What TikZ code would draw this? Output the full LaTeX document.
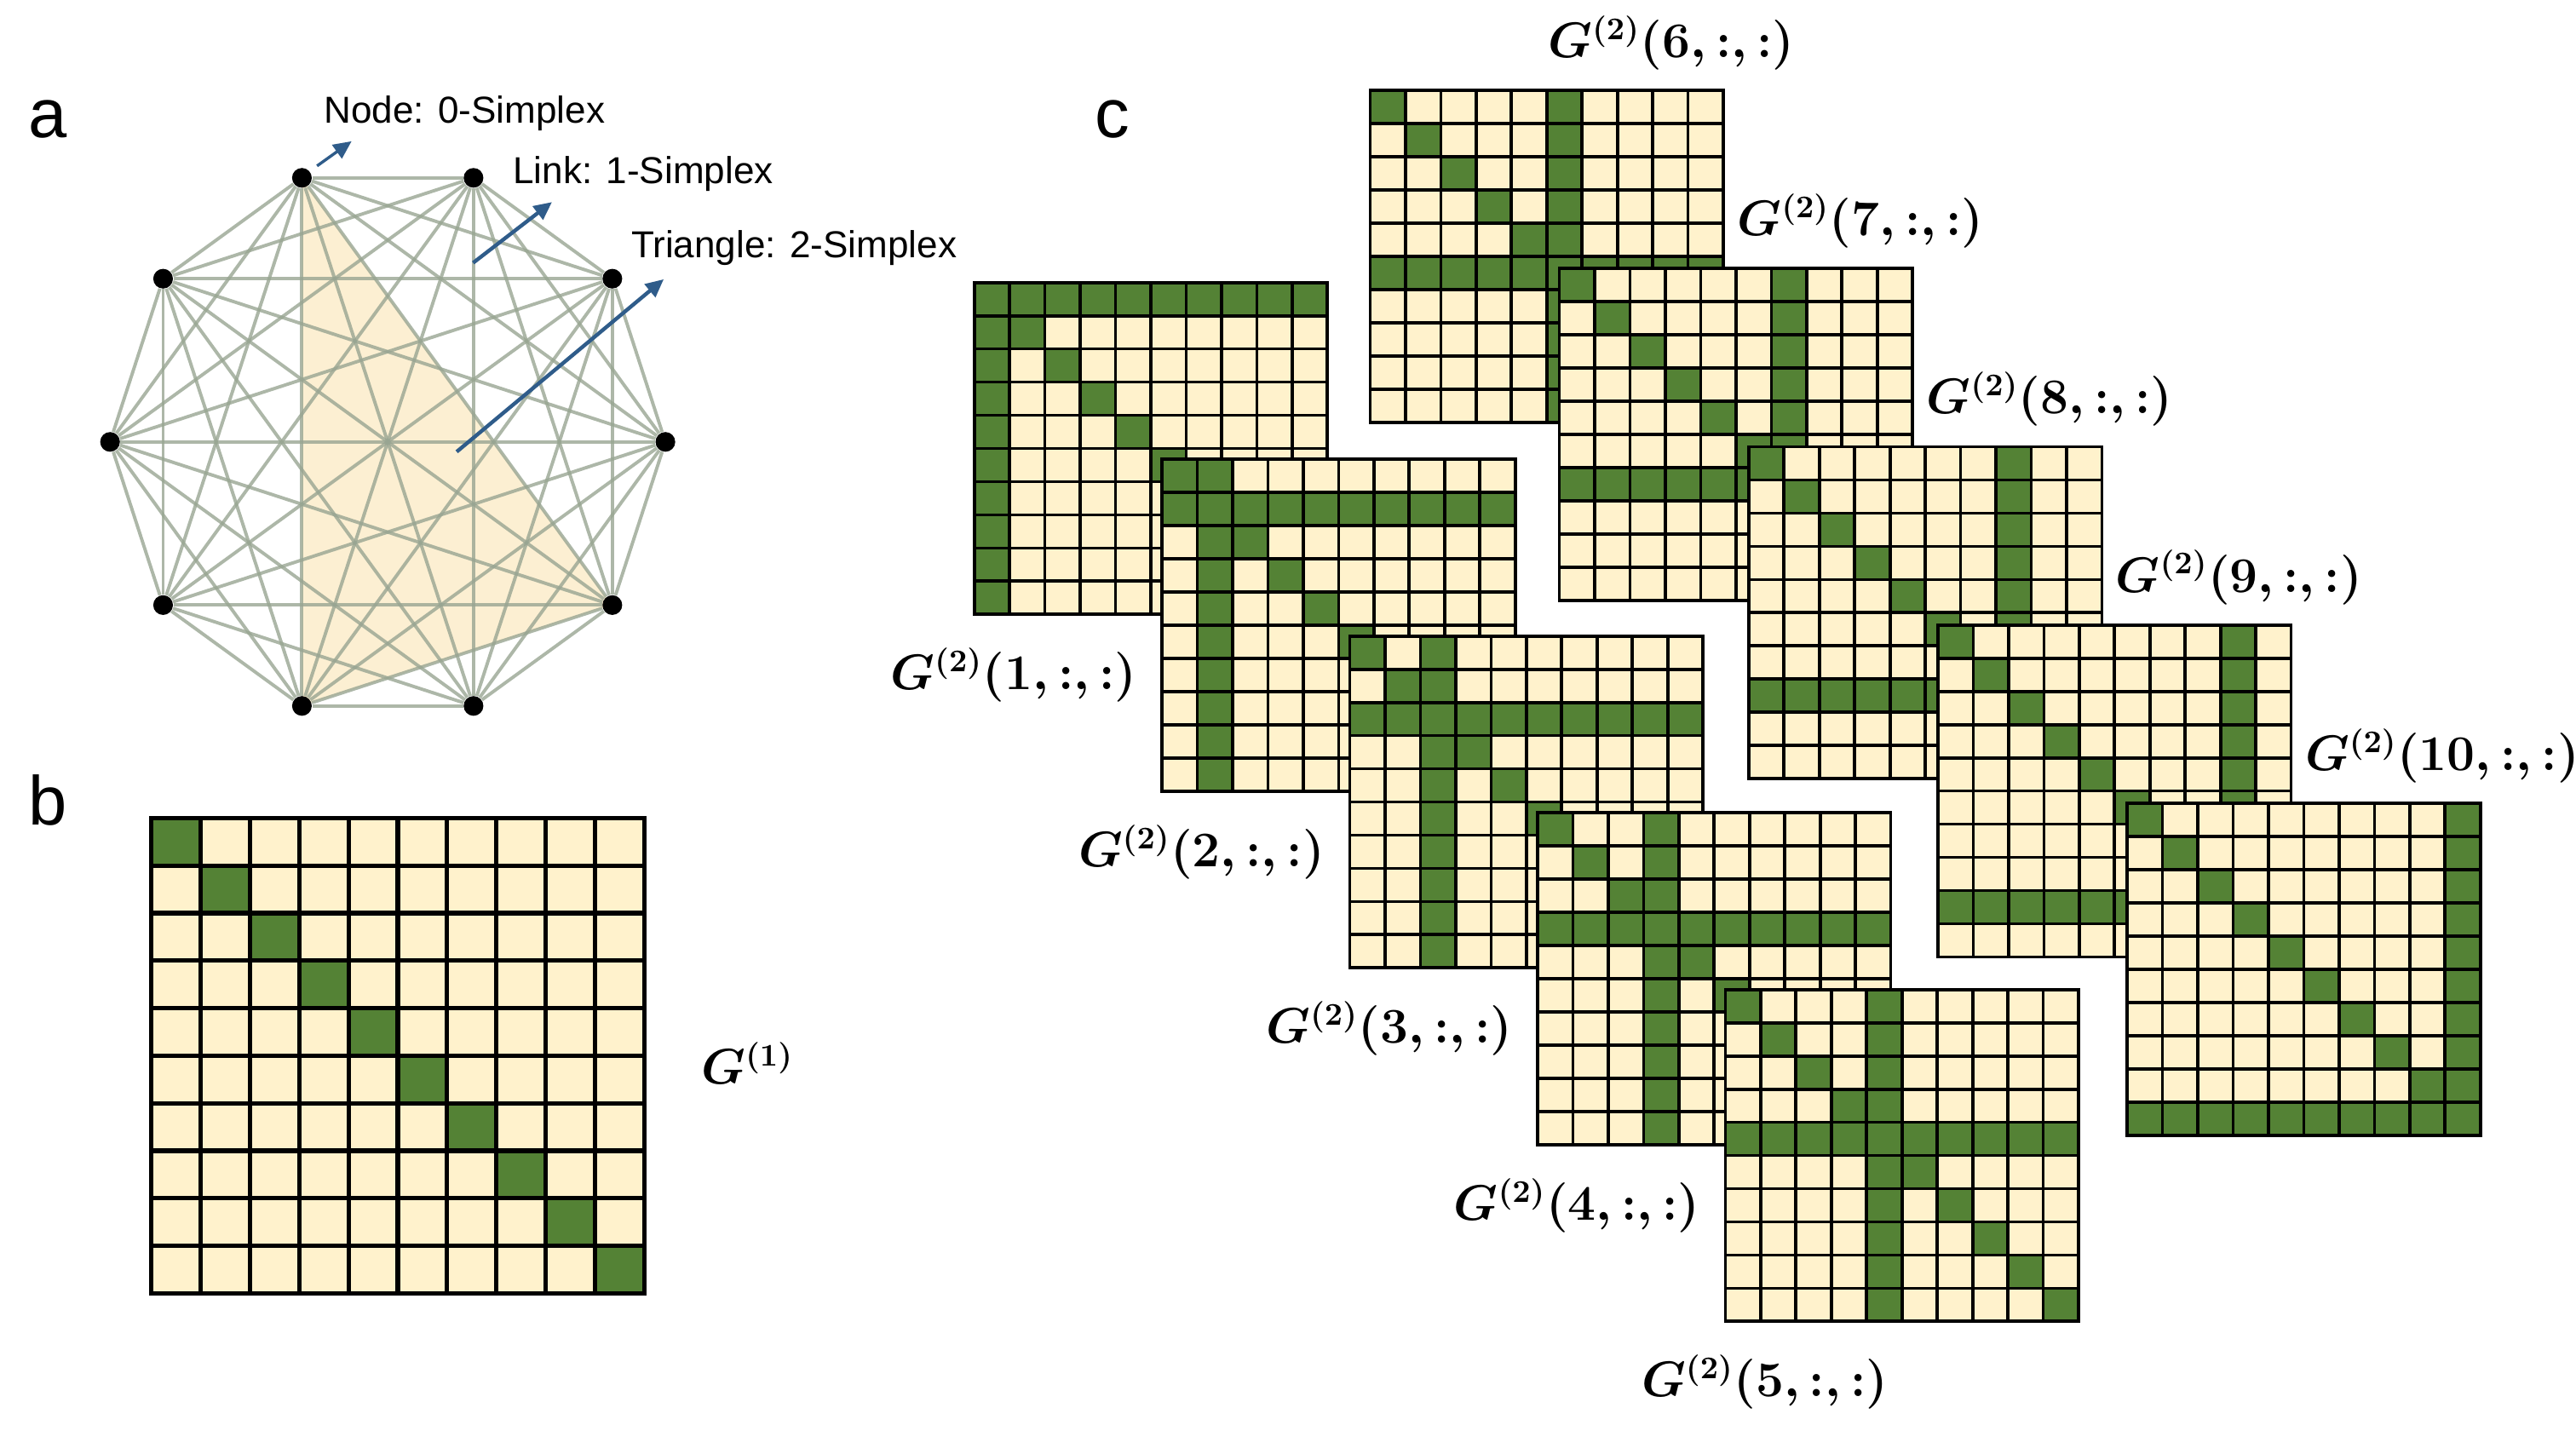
\documentclass[tikz,border=0pt]{standalone}
\usepackage{fontspec}
\setsansfont{Liberation Sans}
\usetikzlibrary{arrows.meta}
\definecolor{cream}{HTML}{FFF2CC}
\definecolor{leaf}{HTML}{548235}
\definecolor{edgegray}{HTML}{98A592}
\definecolor{trifill}{HTML}{FCEFD2}
\definecolor{pointerblue}{HTML}{2F5C8A}

% one 10x10 slice: name, x, y, highlighted index (0 = diagonal only), cell width, cell height
\newcommand{\gslice}[6]{%
  \begin{scope}[shift={({#2},{#3})}]
    \coordinate (#1-nw) at (0,0);
    \coordinate (#1-sw) at (0,{10*#6});
    \coordinate (#1-se) at ({10*#5},{10*#6});
    \fill[cream] (#1-nw) rectangle (#1-se);
    \ifnum#4>0
      \fill[leaf] (0,{(#4-1)*#6}) rectangle ++({10*#5},{#6});
      \fill[leaf] ({(#4-1)*#5},0) rectangle ++({#5},{10*#6});
    \fi
    \foreach \i in {0,...,9}
      \fill[leaf] ({\i*#5},{\i*#6}) rectangle ++({#5},{#6});
    \foreach \i in {0,...,10} {
      \draw[cell] ({\i*#5},0) -- ++(0,{10*#6});
      \draw[cell] (0,{\i*#6}) -- ++({10*#5},0);
    }
  \end{scope}}

\begin{document}
\begin{tikzpicture}[
  x=0.02cm, y=-0.02cm,
  panel/.style={font=\sffamily\fontsize{24}{28}\selectfont,anchor=base west,inner sep=0pt},
  note/.style={font=\sffamily\fontsize{13}{15}\selectfont,anchor=west,inner sep=0pt},
  glabel/.style={font=\fontsize{16.2}{19}\selectfont\boldmath,inner sep=0pt},
  vertex/.style={circle,fill=black,inner sep=0pt,minimum size=0.24cm},
  link/.style={edgegray,opacity=0.8,line width=1.15pt},
  pointer/.style={-{Triangle[length=0.22cm,width=0.2cm]},pointerblue,line width=1.3pt},
  cell/.style={black,line width=1.1pt,line cap=rect}]

  \useasboundingbox (0,0) rectangle (1568,871);

  % Panel letters
  \node[panel] (pa) at (17,84) {a};
  \node[panel] (pb) at (17,502) {b};
  \node[panel] (pc) at (666,84) {c};

  % Complete graph on ten vertices, with one filled triangle
  \foreach \i in {0,...,9}
    \coordinate (p\i) at ({236+169*cos(36*\i)},{269-169*sin(36*\i)});
  \fill[trifill] (p3) -- (p7) -- (p9) -- cycle;
  \foreach \i in {0,...,9}
    \node[vertex] (v\i) at (p\i) {};
  \foreach \i in {0,...,8} {
    \pgfmathtruncatemacro{\nxt}{\i+1}
    \foreach \j in {\nxt,...,9}
      \draw[link] (v\i) -- (v\j);
  }

  % Simplex annotations
  \node[note] (nodetxt) at (197,69) {Node: 0-Simplex};
  \node[note] (linktxt) at (312,106) {Link: 1-Simplex};
  \node[note] (tritxt) at (384,151) {Triangle: 2-Simplex};
  \coordinate (nodetail) at (193,101);
  \coordinate (nodetip) at (214,86);
  \coordinate (linktail) at (288,160);
  \coordinate (linktip) at (336,123);
  \coordinate (tritail) at (278,275);
  \coordinate (tritip) at (404,170);
  \draw[pointer,line width=1pt] (nodetail) -- (nodetip);
  \draw[pointer] (linktail) -- (linktip);
  \draw[pointer] (tritail) -- (tritip);

  % Panel b: first order
  \begin{scope}[cell/.append style={line width=1.5pt}]
    \gslice{s0}{92}{498}{0}{30.03}{28.93}
  \end{scope}
  \node[glabel] (lab0) at (455,647) {$G^{(1)}$};

  % Panel c: second order slices, two staircases
  \foreach \k in {1,...,5} {
    \gslice{s\k}{593+114.3*(\k-1)}{172+107.6*(\k-1)}{\k}{21.5}{20.2}
    \node[glabel] (lab\k) at ([shift={(24,37)}]s\k-sw) {$G^{(2)}(\k{,}\,{:}{,}\,{:})$};
  }
  \foreach \k in {6,...,10} {
    \gslice{s\k}{834+115.2*(\k-6)}{55+108.5*(\k-6)}{\k}{21.5}{20.2}
    \node[glabel,anchor=west] (lab\k) at ([shift={(108,-29)}]s\k-nw) {$G^{(2)}(\k{,}\,{:}{,}\,{:})$};
  }
\end{tikzpicture}
\end{document}
